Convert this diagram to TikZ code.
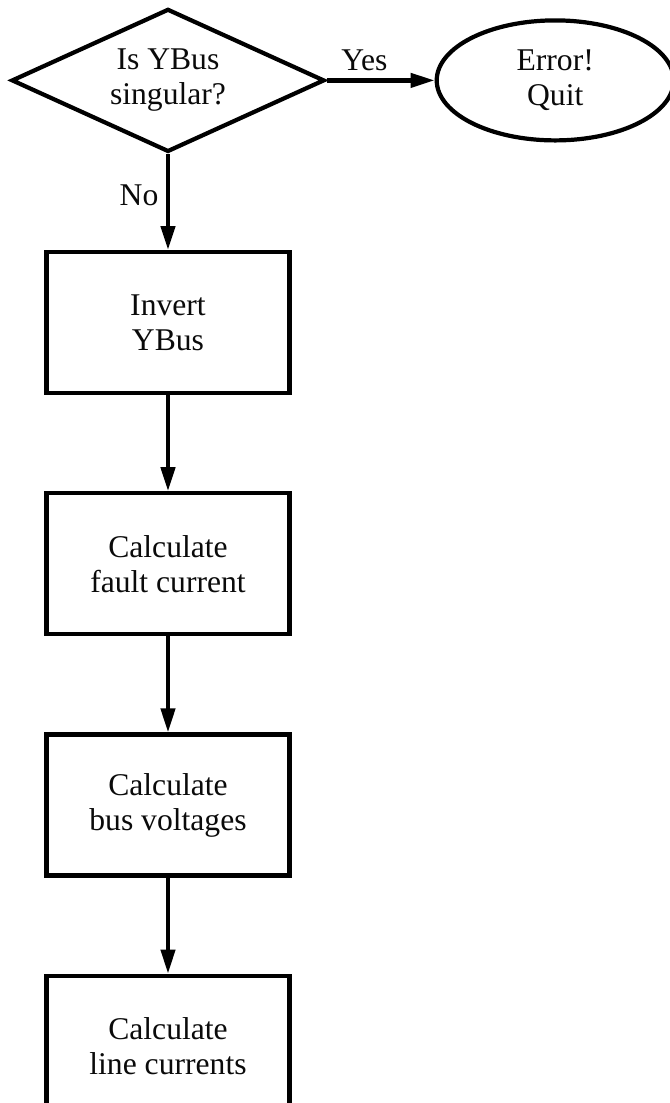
\documentclass[tikz,border=0pt]{standalone}
\usepackage{fontspec}
\setmainfont{Liberation Serif}
\usetikzlibrary{positioning,shapes.geometric,arrows.meta}
\definecolor{ChartLine}{HTML}{000000}
\definecolor{ChartText}{HTML}{0A0A0A}

\begin{document}
\begin{tikzpicture}[
    font=\fontsize{22.5}{25}\selectfont,
    line width=3pt,
    node distance=2.4cm,
    flowbox/.style={draw=ChartLine,text=ChartText,rectangle,minimum width=6.075cm,minimum height=3.525cm,align=center},
    decision/.style={draw=ChartLine,text=ChartText,diamond,aspect=2.19,minimum width=7.825cm,minimum height=3.575cm,inner sep=0pt,align=center},
    terminal/.style={draw=ChartLine,text=ChartText,ellipse,minimum width=5.925cm,minimum height=3cm,align=center},
    flow/.style={draw=ChartLine,-{Triangle[length=6mm,width=3.5mm]}}
  ]
      \useasboundingbox (0,0) rectangle (16.75,-27.575);
      \node[decision] (singular) at (4.2,-2.01) {Is YBus\\singular?};
      \node[terminal,right=2.7cm of singular] (quit) {Error!\\Quit};
      \node[flowbox,below=of singular] (invert) {Invert\\YBus};
      \node[flowbox,below=of invert] (fault) {Calculate\\fault current};
      \node[flowbox,below=of fault] (voltages) {Calculate\\bus voltages};
      \node[flowbox,below=of voltages] (lines) {Calculate\\line currents};
      \draw[flow] (singular) -- node[above,pos=0.35,yshift=2pt,text=ChartText] {Yes} (quit);
      \draw[flow] (singular) -- node[left,pos=0.43,xshift=-2pt,text=ChartText] {No} (invert);
      \draw[flow] (invert) -- (fault);
      \draw[flow] (fault) -- (voltages);
      \draw[flow] (voltages) -- (lines);
    \end{tikzpicture}
\end{document}
